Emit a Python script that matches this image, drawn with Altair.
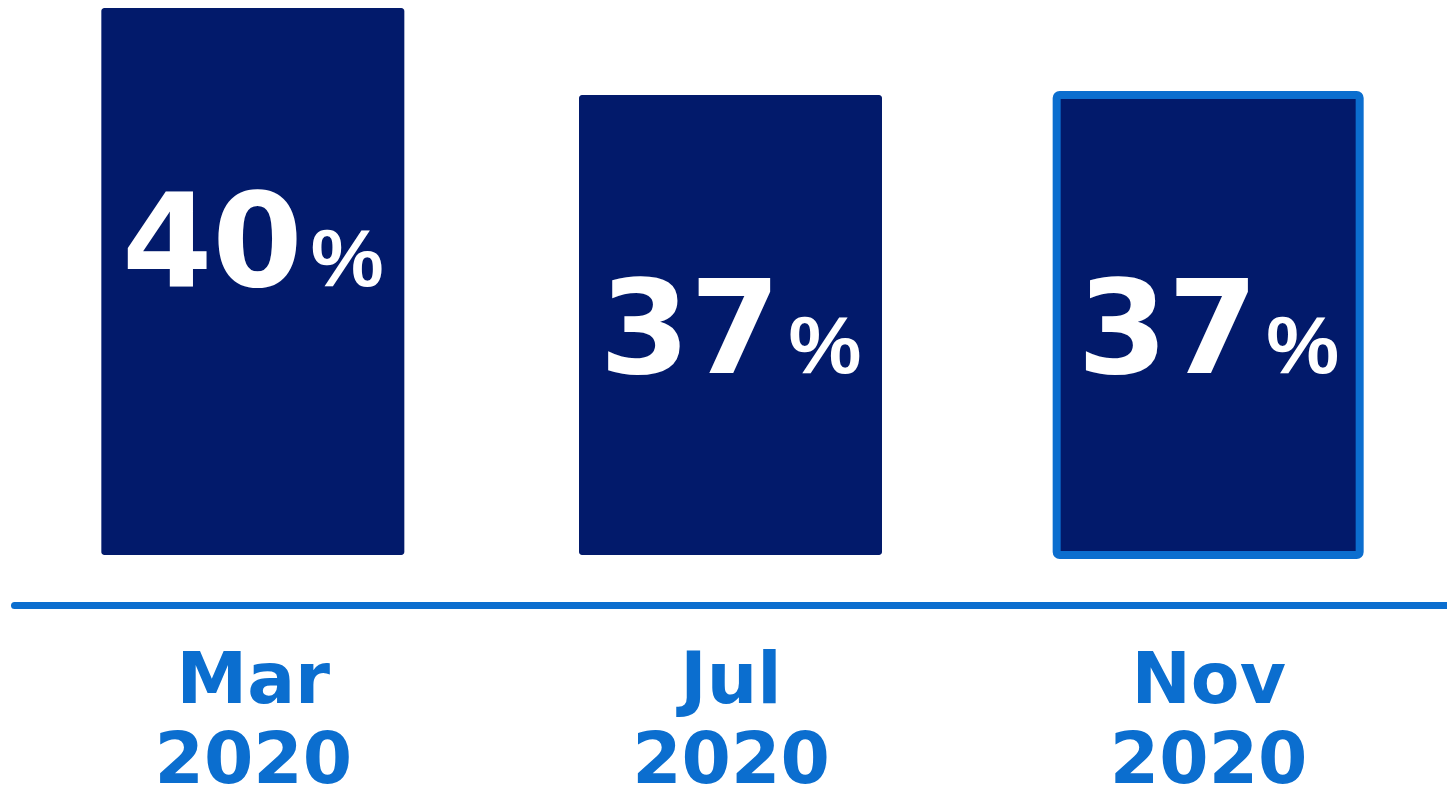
import altair as alt
import pandas as pd

months = ["Mar 2020", "Jul 2020", "Nov 2020"]
values = [40, 37, 37]
highlight_month = "Nov 2020"
axis_base = 21.14  # value axis is truncated: bars start here

NAVY = "#021a6b"
BLUE = "#0b6ecf"

df = pd.DataFrame({"month": months, "value": values})
df["num"] = df["value"].astype(str)

x_enc = alt.X(
    "month:N",
    sort=months,
    scale=alt.Scale(type="point", padding=0.5),
    axis=alt.Axis(
        title=None,
        ticks=False,
        grid=False,
        domainColor=BLUE,
        domainWidth=7,
        domainCap="round",
        offset=50,
        labelExpr="split(datum.label, ' ')",
        labelFont="DejaVu Sans",
        labelFontWeight="bold",
        labelFontSize=71,
        labelColor=BLUE,
        labelLineHeight=80,
        labelBaseline="top",
        labelPadding=41,
        labelAngle=0,
        labelLimit=0,
        zindex=1,
    ),
)
y_enc = alt.Y(
    "value:Q",
    scale=alt.Scale(domain=[axis_base, 40], zero=False, nice=False),
    axis=None,
)

bars = alt.Chart(df).mark_bar(size=303, strokeWidth=8, cornerRadius=3).encode(
    x=x_enc,
    y=y_enc,
    y2=alt.datum(axis_base),
    color=alt.value(NAVY),
    stroke=alt.condition(
        alt.datum.month == highlight_month, alt.value(BLUE), alt.value("transparent")
    ),
)

nums = alt.Chart(df).mark_text(
    font="DejaVu Sans",
    fontWeight="bold",
    fontSize=130,
    color="white",
    align="right",
    baseline="alphabetic",
    dx=50,
    dy=278,
).encode(x=alt.X("month:N", sort=months), y="value:Q", text="num:N")

pct = alt.Chart(df).mark_text(
    font="Liberation Sans",
    fontWeight="bold",
    fontSize=82,
    color="white",
    align="left",
    baseline="alphabetic",
    dx=58,
    dy=278,
).encode(x=alt.X("month:N", sort=months), y="value:Q", text=alt.value("%"))

chart = (
    alt.layer(bars, nums, pct)
    .properties(
        width=1433,
        height=547,
        padding={"left": 6, "top": 0, "right": 0, "bottom": 243},
        autosize=alt.AutoSizeParams(type="none"),
        background="white",
    )
    .configure_view(stroke=None)
)

chart.save("out.html", embed_options={"renderer": "svg", "actions": False})
